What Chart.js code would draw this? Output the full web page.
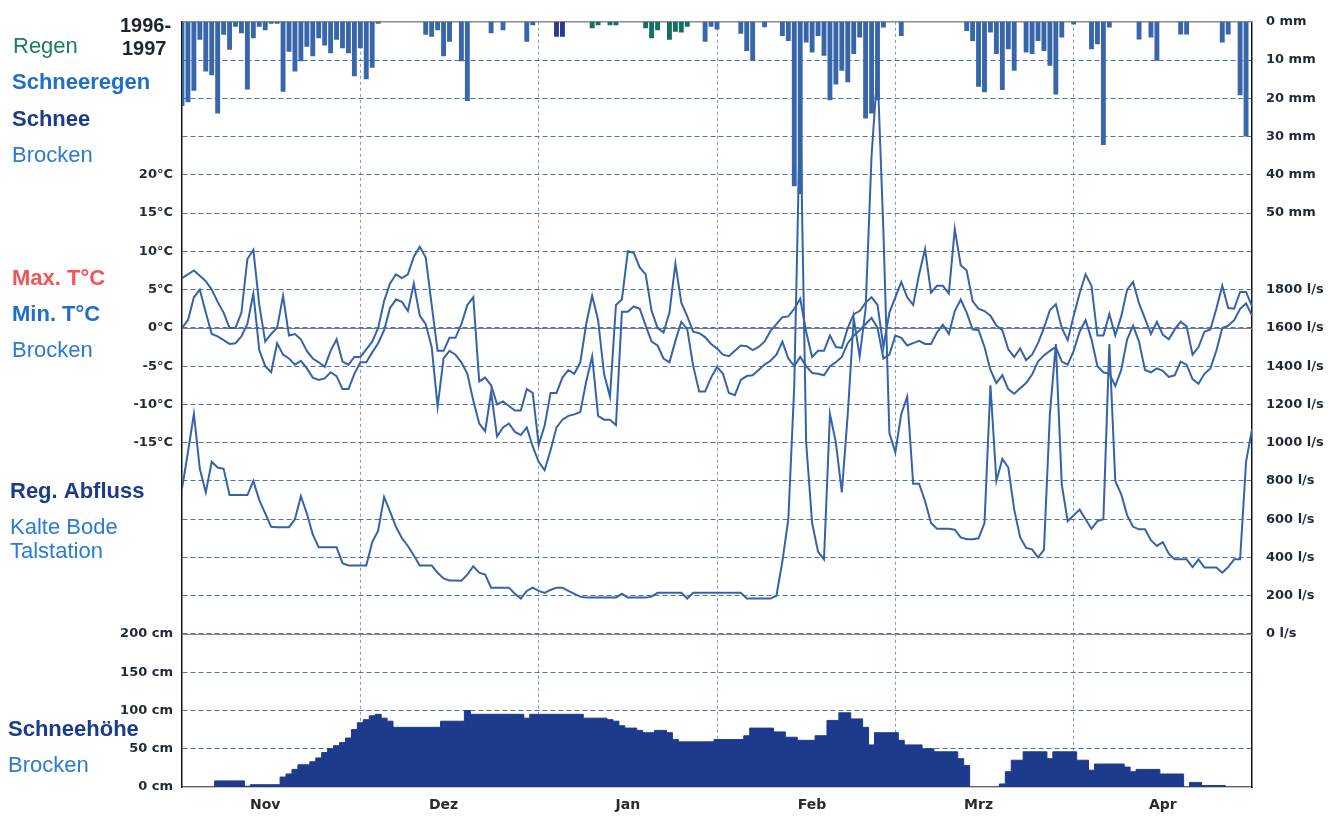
<!DOCTYPE html>
<html>
<head>
<meta charset="utf-8">
<script src="https://cdn.jsdelivr.net/npm/chart.js@4.4.1/dist/chart.umd.min.js"></script>
<style>
  html, body { margin: 0; padding: 0; background: #fff; }
</style>
</head>
<body>
<canvas id="chart" width="1336" height="818"></canvas>
<script>
// Tag 0 = 1. Nov 1996, Tag 180 = 30. Apr 1997
const monthNames = ["Nov", "Dez", "Jan", "Feb", "Mrz", "Apr"];
const monthLabelDays = [14, 44, 75, 106, 134, 165];

// Achsenbeschriftungen
const precipTicks = [0, 10, 20, 30, 40, 50];
const tempTicks = [20, 15, 10, 5, 0, -5, -10, -15];
const flowTicks = [1800, 1600, 1400, 1200, 1000, 800, 600, 400, 200, 0];
const snowTicks = [200, 150, 100, 50, 0];

// Niederschlag Brocken (mm), täglich
const schneeregenMm = [
  22, 21, 18, 4.7, 13, 14, 24, 3.4, 7.3, 1.3,
  3, 17.7, 4.3, 1.3, 2.2, 0.5, 0.5, 18.3, 7.8, 13,
  10.3, 6.5, 9, 4.3, 6.2, 8.2, 4.7, 6.9, 8.2, 14.2,
  6.9, 15, 12, 0.5, 0, 0, 0, 0, 0, 0,
  0, 3.4, 3.9, 2.2, 9, 5.2, 0, 10.3, 20.7, 0,
  0, 0, 3, 0, 2.2, 0, 0, 0, 5.2, 0.9,
  0, 0, 0, 0, 0, 0, 0, 0, 0, 0,
  0, 0, 0, 0, 0, 0, 0, 0, 0, 0,
  0, 0, 0, 0, 0, 0, 0, 0, 5.2, 1.3,
  2, 0, 0, 0, 3.1, 7.6, 10.2, 0, 1.4, 0,
  0, 3.7, 5, 43, 45, 5.4, 8, 3.7, 8.9, 20.5,
  16.4, 12.8, 15.8, 8.4, 4.1, 25.3, 24, 20.5, 1.5, 0,
  0, 3.7, 0, 0, 0, 0, 0, 0, 0, 0,
  0, 0, 2.4, 5, 17, 18.4, 2.8, 8.4, 17.8, 7.2,
  12.8, 0, 8, 8.4, 5, 7.6, 11.5, 19, 4.1, 0,
  0.7, 0, 0, 7.2, 5.9, 32.2, 1.5, 0, 0, 0,
  0, 4.6, 0, 4.1, 10.2, 0, 0, 0, 3.3, 3.3,
  0, 0, 0, 0, 0, 5.4, 3.3, 0, 19.2, 30,
  0
];
const regenTage = [69, 70, 72, 73, 78, 79, 80, 82, 83, 84, 85];
const regenMm = [1.7, 0.9, 0.9, 0.9, 1.7, 4.3, 2.2, 4.7, 2.6, 2.8, 1.3];
const schneeTage = [63, 64];
const schneeMm = [3.9, 3.9];

// Temperatur Brocken (°C)
const tMax = [
  6.5, 7, 7.5, 6.8, 6.1, 5, 3.4, 2, 0, 0,
  2, 9, 10.2, 3, -1.8, -0.8, 0, 4.2, -1, -0.8,
  -1.5, -3, -4, -4.5, -5.1, -3, -1.5, -4.4, -4.8, -3.8,
  -3.8, -2.8, -1.8, 0, 3.5, 5.8, 7, 6.5, 7, 9.3,
  10.6, 9.2, 3, -3, -3, -1.3, -1.3, 0.5, 3, 4,
  -7, -6.5, -7.5, -10, -9.6, -10.2, -10.8, -10.8, -8, -8.5,
  -15.3, -12.8, -8.5, -8.5, -6.5, -5.5, -6, -4.5, 0.5, 4.2,
  1, -6, -9, 3, 3.7, 10, 9.8, 7.9, 7, 2.2,
  0, -0.6, 2, 8.4, 3.3, 1.5, -0.5, -0.7, -1.2, -2.1,
  -2.7, -3.5, -3.7, -3, -2.3, -2.4, -2.9, -2.5, -1.8, -0.4,
  0.5, 1.4, 1.5, 2.5, 3.8, -0.5, -3.8, -3, -3, -1,
  -2.5, -2.6, 0, 1.8, 2.2, 3.3, 4, 3, -2.5, 2,
  4, 6, 4, 3, 7, 10.3, 4.6, 5.5, 5.5, 4.5,
  12.9, 8.2, 7.5, 3.5, 2.5, 2.2, 1.6, 0.3, -0.3, -2.8,
  -3.8, -2.7, -4.2, -3.5, -2, 0, 2.3, 3.1, 0, -1.6,
  1.6, 4.5, 7, 5.5, -1, -1, 1.8, -1, 1.5, 5,
  6, 3.2, 1.2, -0.8, 0.8, -0.9, -1.5, -0.2, 0.8, 0.2,
  -3.5, -2.5, -0.5, -0.2, 2.5, 5.5, 2.6, 2.5, 4.7, 4.7,
  2.8
];
const tMin = [
  0, 1, 4, 5, 2, -0.8, -1.1, -1.6, -2.1, -2,
  -1.1, 0.5, 4.5, -2.9, -5, -5.8, -2, -3.5, -4, -4.8,
  -4.3, -5.3, -6.5, -6.8, -6.6, -5.8, -6.3, -8, -8, -6,
  -4.5, -4.5, -3.2, -2, -0.3, 2.6, 3.7, 3.4, 2.2, 5.8,
  1.6, 0.5, -2.5, -10.3, -4, -3, -3.5, -4.5, -6, -9.5,
  -12.5, -13.5, -8.4, -14.2, -13, -12.5, -13.6, -14, -13, -15.5,
  -17.5, -18.6, -16, -13, -12, -11.5, -11.3, -11, -7, -3.7,
  -11.5, -12, -12, -12.7, 2.1, 2.1, 2.8, 2.5, 0.3, -1.8,
  -2.3, -4, -4.5, -1.7, 0.8, -0.2, -5, -8.3, -8.3, -6.5,
  -5.1, -6, -8.5, -8.8, -6.8, -6.3, -6.2, -5.5, -4.8, -4.3,
  -3.5, -1.8, -4, -5, -3.8, -5, -5.9, -6, -6.2, -5,
  -4.5, -3.8, -2, -1, -0.3, 0.5, 1.3, 0, -4, -3.5,
  -1, -1.3, -2.3, -2, -1.7, -2.1, -2.1, -0.6, 0.4, -0.8,
  2.2, 3.7, 2, -0.2, -0.3, -2.5, -5.5, -7.2, -6.2, -8,
  -8.6, -7.9, -7.2, -6.1, -4.4, -3.6, -3, -2.5, -4.4, -4.8,
  -3, -0.5, 1, -1.5, -5, -5.8, -6, -7.6, -5.5, -1.5,
  0.3, -1.8, -5.5, -5.8, -5.3, -5.6, -6.4, -6.2, -4.4, -4.8,
  -6.7, -7.3, -6, -5.3, -3, 0, 0.3, 1, 2.5, 3.2,
  1.6
];

// Abfluss Kalte Bode, Talstation (l/s)
const abfluss = [
  760, 950, 1150, 863, 740, 900, 870, 863, 726, 726,
  726, 726, 800, 700, 630, 560, 558, 558, 558, 600,
  720, 630, 520, 453, 453, 453, 453, 370, 358, 358,
  358, 358, 480, 540, 716, 640, 560, 500, 460, 410,
  358, 358, 358, 320, 290, 280, 280, 278, 310, 354,
  320, 310, 242, 242, 242, 242, 210, 185, 225, 242,
  225, 215, 230, 242, 242, 225, 210, 195, 190, 190,
  190, 190, 190, 190, 210, 190, 190, 190, 190, 195,
  215, 215, 215, 215, 215, 185, 215, 215, 215, 215,
  215, 215, 215, 215, 215, 185, 185, 185, 185, 185,
  200, 380, 600, 1300, 2760, 1000, 580, 430, 390, 1150,
  1000, 740, 1150, 1650, 1450, 1700, 2500, 2950, 2100, 1050,
  950, 1150, 1240, 785, 785, 695, 580, 550, 550, 550,
  545, 505, 495, 495, 500, 580, 1300, 800, 915, 870,
  650, 505, 450, 442, 400, 440, 1150, 1515, 780, 590,
  620, 650, 600, 550, 590, 600, 1515, 800, 730, 620,
  560, 547, 547, 490, 460, 480, 420, 390, 390, 390,
  350, 390, 347, 347, 347, 320, 350, 390, 390, 900,
  1070
];

// Schneehöhe Brocken (cm)
const schneehoehe = [
  0, 0, 0, 0, 0, 0, 8, 8, 8, 8,
  8, 1, 3, 3, 3, 3, 3, 13, 17, 23,
  29, 29, 33, 38, 45, 50, 54, 58, 64, 75,
  84, 88, 93, 95, 90, 86, 78, 78, 78, 78,
  78, 78, 78, 78, 86, 86, 86, 86, 100, 95,
  95, 95, 95, 95, 95, 95, 95, 95, 90, 95,
  95, 95, 95, 95, 95, 95, 95, 95, 90, 90,
  90, 90, 88, 86, 80, 77, 77, 74, 71, 71,
  74, 74, 71, 62, 59, 59, 59, 59, 59, 59,
  62, 62, 62, 62, 62, 67, 77, 77, 77, 77,
  72, 72, 65, 65, 61, 61, 61, 67, 67, 87,
  87, 97, 97, 89, 89, 78, 55, 71, 71, 71,
  71, 61, 55, 55, 55, 50, 50, 46, 46, 46,
  46, 37, 28, 0, 0, 0, 0, 0, 4, 20,
  35, 35, 46, 46, 46, 46, 37, 46, 46, 46,
  46, 35, 35, 22, 30, 30, 30, 30, 30, 26,
  20, 23, 23, 23, 23, 17, 17, 17, 17, 0,
  6, 6, 2, 2, 2, 2, 0, 0, 0, 0,
  0
];

const days = schneehoehe.map((_, i) => i);
const toPoints = (tage, werte) => tage.map((t, i) => ({ x: t, y: werte[i] }));

// Gitterzeilen 0..20 von oben; Werte der vier Bänder je Zeile
const ROWS = 20;
const precipAt = (r) => r * 10;
const tempAt = (r) => 40 - r * 5;
const flowAt = (r) => 3200 - r * 200;
const snowAt = (r) => 1000 - r * 50;

const leftLabel = (r) => {
  if (tempTicks.includes(tempAt(r))) return tempAt(r) + "°C";
  if (snowTicks.includes(snowAt(r))) return snowAt(r) + " cm";
  return "";
};
const rightLabel = (r) => {
  if (precipTicks.includes(precipAt(r))) return precipAt(r) + " mm";
  if (flowTicks.includes(flowAt(r))) return flowAt(r) + " l/s";
  return "";
};

const LINE = "#3663a8";
const tickFont = { family: "DejaVu Sans", size: 13, weight: "bold" };

const textPlugin = {
  id: "texte",
  afterDraw(chart) {
    const { ctx } = chart;
    ctx.save();
    ctx.textAlign = "left";
    ctx.textBaseline = "alphabetic";

    ctx.fillStyle = "#1c2430";
    ctx.font = 'bold 20px "Liberation Sans"';
    ctx.fillText("1996-", 120, 32);
    ctx.fillText("1997", 122, 55);

    const items = [
      ["Regen", 13, 53, "normal", "#1e7d5a"],
      ["Schneeregen", 12, 89, "bold", "#1f6fc8"],
      ["Schnee", 12, 126, "bold", "#1b3b8f"],
      ["Brocken", 12, 162, "normal", "#2a7bd4"],
      ["Max. T°C", 12, 285, "bold", "#f05656"],
      ["Min. T°C", 12, 321, "bold", "#1f6fc8"],
      ["Brocken", 12, 357, "normal", "#2a7bd4"],
      ["Reg. Abfluss", 10, 498, "bold", "#1b3b8f"],
      ["Kalte Bode", 10, 534, "normal", "#2a7bd4"],
      ["Talstation", 10, 558, "normal", "#2a7bd4"],
      ["Schneehöhe", 8, 736, "bold", "#1b3b8f"],
      ["Brocken", 8, 772, "normal", "#2a7bd4"],
    ];
    items.forEach(([txt, x, y, w, col]) => {
      ctx.font = `${w} 22px "Liberation Sans"`;
      ctx.fillStyle = col;
      ctx.fillText(txt, x, y);
    });
    ctx.restore();
  },
};

const linesPlugin = {
  id: "nulllinien",
  beforeDatasetsDraw(chart) {
    const { ctx, chartArea, scales } = chart;
    ctx.save();
    ctx.lineWidth = 1.5;
    ctx.strokeStyle = "#8c8c8c";
    ctx.beginPath();
    ctx.moveTo(chartArea.left, chartArea.top);
    ctx.lineTo(chartArea.right, chartArea.top);
    ctx.stroke();

    ctx.lineWidth = 1.2;
    ctx.strokeStyle = "#6d7b96";
    const y0 = Math.round(scales.yT.getPixelForValue(0)) + 0.5;
    ctx.beginPath();
    ctx.moveTo(chartArea.left, y0);
    ctx.lineTo(chartArea.right, y0);
    ctx.stroke();

    ctx.strokeStyle = "#8a8a8a";
    const q0 = Math.round(scales.yQ.getPixelForValue(0)) + 0.5;
    ctx.beginPath();
    ctx.moveTo(chartArea.left, q0);
    ctx.lineTo(chartArea.right, q0);
    ctx.stroke();
    ctx.restore();
  },
};

const barBase = {
  type: "bar",
  xAxisID: "x",
  yAxisID: "yP",
  grouped: false,
  barPercentage: 0.82,
  categoryPercentage: 1,
  borderWidth: 0,
};

new Chart(document.getElementById("chart").getContext("2d"), {
  data: {
    labels: days,
    datasets: [
      {
        type: "line",
        label: "Schneehöhe",
        data: schneehoehe,
        xAxisID: "x",
        yAxisID: "yS",
        stepped: "middle",
        fill: "origin",
        backgroundColor: "#1d3a8c",
        borderColor: "#1d3a8c",
        borderWidth: 1,
        pointRadius: 0,
        order: 6,
      },
      { ...barBase, label: "Schneeregen", data: schneeregenMm, backgroundColor: "#3766aa", order: 5 },
      { ...barBase, label: "Regen", data: toPoints(regenTage, regenMm), backgroundColor: "#17705f", order: 4 },
      { ...barBase, label: "Schnee", data: toPoints(schneeTage, schneeMm), backgroundColor: "#283a92", order: 3 },
      {
        type: "line",
        label: "Abfluss",
        data: abfluss,
        xAxisID: "x",
        yAxisID: "yQ",
        borderColor: LINE,
        borderWidth: 2,
        pointRadius: 0,
        tension: 0,
        fill: false,
        order: 2,
      },
      {
        type: "line",
        label: "Min. T",
        data: tMin,
        xAxisID: "x",
        yAxisID: "yT",
        borderColor: LINE,
        borderWidth: 2,
        pointRadius: 0,
        tension: 0,
        fill: false,
        order: 1,
      },
      {
        type: "line",
        label: "Max. T",
        data: tMax,
        xAxisID: "x",
        yAxisID: "yT",
        borderColor: LINE,
        borderWidth: 2,
        pointRadius: 0,
        tension: 0,
        fill: false,
        order: 0,
      },
    ],
  },
  options: {
    responsive: false,
    animation: false,
    devicePixelRatio: 1,
    layout: { padding: { top: 14, left: 0, right: 0, bottom: 0 } },
    plugins: {
      legend: { display: false },
      tooltip: { enabled: false },
    },
    scales: {
      x: {
        type: "linear",
        position: "bottom",
        offset: false,
        min: 0,
        max: 180,
        ticks: { display: false, stepSize: 30 },
        grid: {
          offset: false,
          drawTicks: false,
          color: (c) => (c.tick && c.tick.value % 180 === 0 ? "rgba(0,0,0,0)" : "#7f9bd0"),
          lineWidth: 1,
        },
        border: { display: true, color: "#8a8a8a", width: 1.5, dash: [3, 3] },
        afterFit(scale) {
          scale.height = 0;
        },
      },
      xm: {
        type: "linear",
        position: "bottom",
        offset: false,
        min: 0,
        max: 180,
        grid: { display: false, drawTicks: false },
        border: { display: false },
        afterBuildTicks(scale) {
          scale.ticks = monthLabelDays.map((v) => ({ value: v }));
        },
        ticks: {
          autoSkip: false,
          maxRotation: 0,
          padding: 10,
          color: "#2b2b2b",
          font: { family: "DejaVu Sans", size: 14, weight: "bold" },
          callback: (v, i) => monthNames[i],
        },
        afterFit(scale) {
          scale.height = 31;
        },
      },
      yl: {
        type: "linear",
        position: "left",
        min: 0,
        max: ROWS,
        reverse: true,
        ticks: {
          stepSize: 1,
          autoSkip: false,
          padding: 9,
          color: "#1f2a36",
          font: tickFont,
          callback: (v) => leftLabel(v),
        },
        grid: {
          drawTicks: false,
          color: (c) => (c.tick && (c.tick.value === 0 || c.tick.value === ROWS) ? "rgba(0,0,0,0)" : "#4c70b4"),
          lineWidth: 1,
        },
        border: { display: true, color: "#151515", width: 1.5, dash: [5, 3] },
        afterFit(scale) {
          scale.width = 182;
        },
      },
      yr: {
        type: "linear",
        position: "right",
        min: 0,
        max: ROWS,
        reverse: true,
        ticks: {
          stepSize: 1,
          autoSkip: false,
          padding: 14,
          color: "#1f2a36",
          font: tickFont,
          callback: (v) => rightLabel(v),
        },
        grid: { display: false, drawTicks: false },
        border: { display: true, color: "#151515", width: 1.5 },
        afterFit(scale) {
          scale.width = 84;
        },
      },
      yP: { display: false, min: 0, max: 200, reverse: true },
      yT: { display: false, min: -60, max: 40 },
      yQ: { display: false, min: -800, max: 3200 },
      yS: { display: false, min: 0, max: 1000 },
    },
  },
  plugins: [linesPlugin, textPlugin],
});
</script>
</body>
</html>
